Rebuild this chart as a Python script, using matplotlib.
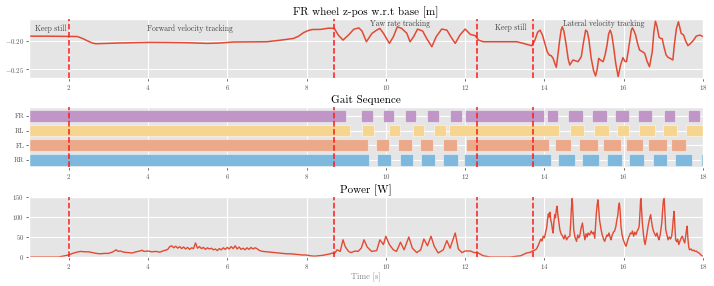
import matplotlib
matplotlib.use("Agg")
import matplotlib.pyplot as plt

plt.style.use('ggplot')
plt.rcParams['font.family'] = ['cmr10', 'DejaVu Serif']
plt.rcParams['mathtext.fontset'] = 'cm'
plt.rcParams['axes.formatter.use_mathtext'] = True

# phase change times [s]
phase_times = [2.0, 8.7, 12.3, 13.7]

# FR wheel z position w.r.t base [m]
z_t = [1.0, 1.5, 2.0, 2.22, 2.35, 2.47, 2.6, 2.68, 2.9, 3.23, 3.6, 4.06, 4.5, 5.0, 5.49, 5.8,
       6.16, 6.6, 7.0, 7.34, 7.5, 7.67, 7.8, 7.93, 8.05, 8.14, 8.35, 8.56, 8.7, 8.8, 8.92, 9.06,
       9.19, 9.32, 9.4, 9.51, 9.65, 9.77, 9.85, 9.94, 10.09, 10.19, 10.29, 10.4, 10.53, 10.61,
       10.7, 10.8, 10.93, 11.03, 11.16, 11.27, 11.41, 11.54, 11.64, 11.75, 11.87, 12.0, 12.13,
       12.25, 12.34, 12.46, 12.8, 13.3, 13.47, 13.68,
       13.76, 13.83, 13.89, 13.95, 14.01, 14.07, 14.12, 14.17, 14.22, 14.27, 14.3, 14.34, 14.38,
       14.42, 14.45, 14.49, 14.55, 14.6, 14.64, 14.68, 14.72, 14.78, 14.85, 14.93, 14.98, 15.04,
       15.08, 15.12, 15.18, 15.24, 15.29, 15.33, 15.37, 15.42, 15.48, 15.53, 15.58, 15.62, 15.66,
       15.7, 15.75, 15.8, 15.86, 15.92, 15.98, 16.03, 16.07, 16.11, 16.15, 16.19, 16.22, 16.26,
       16.3, 16.35, 16.4, 16.47, 16.53, 16.59, 16.65, 16.69, 16.72, 16.76, 16.8, 16.84, 16.89,
       16.93, 16.97, 17.02, 17.07, 17.12, 17.17, 17.24, 17.28, 17.33, 17.38, 17.42, 17.45, 17.51,
       17.56, 17.62, 17.68, 17.75, 17.83, 17.92, 18.0]
z_v = [-0.192, -0.192, -0.1925, -0.1926, -0.196, -0.2, -0.204, -0.2052, -0.2048, -0.204, -0.2035,
       -0.2028, -0.203, -0.2035, -0.2046, -0.204, -0.2022, -0.202, -0.2017, -0.199, -0.1975,
       -0.196, -0.192, -0.1856, -0.182, -0.1804, -0.1802, -0.178, -0.1784, -0.19, -0.1988, -0.19,
       -0.18, -0.1775, -0.1831, -0.2017, -0.1872, -0.1814, -0.1784, -0.187, -0.2046, -0.193,
       -0.1756, -0.1784, -0.187, -0.2017, -0.193, -0.1796, -0.1831, -0.196, -0.2104, -0.193,
       -0.1796, -0.1814, -0.193, -0.2046, -0.19, -0.1796, -0.1888, -0.191, -0.1988, -0.2017,
       -0.2017, -0.2017, -0.2046, -0.2087,
       -0.199, -0.185, -0.1814, -0.19, -0.2046, -0.219, -0.2249, -0.226, -0.2307, -0.241, -0.2464,
       -0.225, -0.2017, -0.182, -0.1756, -0.183, -0.2075, -0.232, -0.2423, -0.238, -0.2336, -0.235,
       -0.2365, -0.2278, -0.205, -0.1814, -0.184, -0.197, -0.2307, -0.252, -0.2615, -0.25,
       -0.2307, -0.234, -0.2365, -0.225, -0.2075, -0.188, -0.1814, -0.19, -0.2133, -0.24,
       -0.2627, -0.2423, -0.2295, -0.236, -0.2365, -0.22, -0.2017, -0.182, -0.1775, -0.183,
       -0.19, -0.205, -0.2162, -0.219, -0.222, -0.236, -0.2453, -0.23, -0.2191, -0.185, -0.1657,
       -0.175, -0.1935, -0.196, -0.1962, -0.212, -0.2249, -0.229, -0.2307, -0.2336, -0.205,
       -0.1784, -0.1668, -0.178, -0.1872, -0.19, -0.2, -0.2086, -0.205, -0.2, -0.192, -0.19,
       -0.1929]

# phase labels
label_texts = ['Keep still', 'Forward velocity tracking', 'Yaw rate tracking', 'Keep still',
               'Lateral velocity tracking']
label_t = [1.55, 5.07, 10.37, 13.16, 15.5]
label_y = [-0.1796, -0.1796, -0.1704, -0.178, -0.1704]

# gait sequence (stance intervals)
legs = ['RR', 'FL', 'RL', 'FR']
leg_colors = ['#7EB8DC', '#EBA98A', '#F5D58F', '#BF96C5']
gait = {
    'FR': [(1, 9.0), (9.38, 9.665), (9.93, 10.21), (10.48, 10.77), (11.03, 11.33), (11.61, 11.93),
           (12.0, 14.0), (14.06, 14.35), (14.6, 14.98), (15.2, 15.57), (15.79, 16.14),
           (16.37, 16.72), (17.01, 17.29), (17.61, 17.92)],
    'RL': [(1, 9.1), (9.40, 9.69), (10.07, 10.36), (10.68, 10.96), (11.21, 11.51), (11.6, 14.37),
           (14.64, 15.0), (15.25, 15.62), (15.82, 16.14), (16.39, 16.79), (16.98, 17.35),
           (17.57, 18.0)],
    'FL': [(1, 9.55), (9.76, 10.09), (10.31, 10.66), (10.87, 11.2), (11.45, 11.79), (12.01, 14.11),
           (14.27, 14.67), (14.86, 15.34), (15.47, 15.93), (16.05, 16.48), (16.62, 17.08),
           (17.19, 17.57)],
    'RR': [(1, 9.58), (9.78, 10.13), (10.35, 10.68), (10.89, 11.24), (11.45, 11.82), (11.98, 14.17),
           (14.35, 14.77), (14.94, 15.37), (15.57, 15.95), (16.14, 16.51), (16.74, 17.1),
           (17.29, 17.73), (17.94, 18.0)],
}

# power [W]
p_t = [1.0, 1.75, 1.85, 2.0, 2.1, 2.2, 2.3, 2.4, 2.5, 2.6, 2.7, 2.8, 2.9, 3.0, 3.1, 3.2, 3.25, 3.3,
       3.4, 3.5, 3.6, 3.7, 3.8, 3.85, 3.9, 4.0, 4.1, 4.2, 4.3, 4.4,
       4.45, 4.5, 4.55, 4.6, 4.65, 4.7, 4.75, 4.8, 4.85, 4.9, 4.95, 5.0, 5.05, 5.1, 5.15, 5.2, 5.25,
       5.3, 5.35, 5.4, 5.45, 5.5, 5.55, 5.6, 5.65, 5.7, 5.75, 5.8, 5.85, 5.9, 5.95, 6.0, 6.05,
       6.1, 6.15, 6.2, 6.25, 6.3, 6.35, 6.4, 6.45, 6.5, 6.55, 6.6, 6.65, 6.7, 6.75, 6.8, 6.85, 6.9,
       7.0, 7.1, 7.2, 7.3, 7.4, 7.5, 7.6, 7.7, 7.8, 7.9, 8.0, 8.1, 8.2, 8.3, 8.4, 8.5, 8.6, 8.65,
       8.7, 8.77, 8.85, 8.92, 8.98, 9.06, 9.12, 9.23, 9.3, 9.38, 9.45, 9.53, 9.64, 9.77, 9.85,
       9.94, 10.0, 10.09, 10.19, 10.27, 10.37, 10.46, 10.58, 10.67, 10.78, 10.88, 10.96, 11.05,
       11.14, 11.22, 11.32, 11.45, 11.54, 11.62, 11.75, 11.83, 11.92, 12.0, 12.13, 12.23, 12.31,
       12.46, 12.63, 13.14, 13.4, 13.55, 13.65,
       13.7, 13.75, 13.8, 13.84, 13.88, 13.91, 13.94, 13.97, 14.0, 14.03, 14.06, 14.08, 14.1,
       14.12, 14.14, 14.16, 14.18, 14.2, 14.22, 14.24, 14.26, 14.28, 14.3, 14.32, 14.34, 14.36,
       14.39, 14.42, 14.46, 14.49, 14.52, 14.56, 14.6, 14.64, 14.66, 14.68, 14.7, 14.72, 14.74,
       14.77, 14.81, 14.84, 14.87, 14.89, 14.92, 14.96, 14.99, 15.02, 15.05, 15.08, 15.1, 15.14,
       15.18, 15.21, 15.24, 15.27, 15.29, 15.31, 15.33, 15.35, 15.37, 15.39, 15.41, 15.43, 15.46,
       15.49, 15.52, 15.55, 15.58, 15.6, 15.63, 15.66, 15.68, 15.71, 15.74, 15.77, 15.8, 15.83,
       15.85, 15.87, 15.89, 15.91, 15.93, 15.96, 15.99, 16.02, 16.04, 16.06, 16.09, 16.12, 16.14,
       16.17, 16.2, 16.22, 16.25, 16.28, 16.31, 16.34, 16.37, 16.39, 16.41, 16.43, 16.45, 16.47,
       16.5, 16.52, 16.54, 16.57, 16.6, 16.62, 16.65, 16.68, 16.7, 16.72, 16.75, 16.78, 16.81,
       16.84, 16.87, 16.89, 16.92, 16.94, 16.96, 16.98, 17.0, 17.02, 17.04, 17.06, 17.09, 17.12,
       17.15, 17.18, 17.21, 17.23, 17.25, 17.27, 17.29, 17.31, 17.34, 17.36, 17.39, 17.42, 17.45,
       17.48, 17.51, 17.54, 17.56, 17.58, 17.6, 17.62, 17.64, 17.66, 17.7, 17.73, 17.77, 17.8,
       17.83, 17.86, 17.9, 17.93, 17.96, 18.0]
p_v = [0, 0, 2, 5, 9, 12, 14, 13, 13, 11, 9, 8, 9, 9, 12, 18, 14, 15,
       12, 11, 10, 13, 15, 17, 14, 15, 13, 14, 12, 16,
       17, 19, 26, 28, 23, 27, 22, 26, 21, 25, 20, 24, 19, 23, 21, 35, 22,
       26, 21, 24, 19, 23, 20, 22, 18, 20, 16, 21, 18, 23, 19, 24, 20,
       26, 21, 28, 20, 25, 19, 22, 18, 23, 19, 24, 20, 23, 21, 17, 15, 14,
       13, 12, 11, 10, 9, 8, 8, 7, 6, 5, 5, 3, 2, 3, 4, 6, 8, 10,
       8, 18, 14, 43, 25, 14, 11, 15, 14, 22, 43, 25, 14, 16, 43,
       31, 52, 31, 18, 14, 37, 18, 50, 22, 11, 18, 45, 28,
       52, 27, 10, 18, 41, 22, 60, 20, 11, 15, 15, 11, 11,
       3, 0, 0, 3, 10, 12,
       15, 17, 20, 28, 38, 45, 40, 52, 48, 62, 75, 95, 108,
       100, 112, 92, 85, 70, 60, 88, 106, 98, 118, 127, 105, 90,
       68, 58, 52, 45, 55, 43, 50, 52, 80, 120, 150, 110, 68,
       50, 39, 55, 48, 52, 70, 85, 60, 43, 58, 50, 60, 55,
       65, 58, 62, 47, 80, 110, 130, 143, 120, 93, 80, 68, 55,
       45, 39, 48, 55, 52, 60, 48, 43, 55, 62, 65, 75, 95,
       102, 125, 135, 115, 77, 55, 43, 35, 30, 27, 38, 48, 52,
       60, 58, 65, 52, 62, 56, 65, 70, 77, 110, 150, 120, 85,
       55, 40, 31, 48, 68, 80, 95, 106, 90, 77, 65, 58, 52,
       60, 48, 43, 55, 70, 85, 115, 140, 150, 110, 68, 55, 43,
       50, 45, 52, 70, 95, 114, 80, 43, 38, 45, 31, 40, 48,
       52, 42, 35, 50, 65, 77, 45, 25, 18, 20, 16, 17, 14,
       15, 12, 10, 7, 4, 2]

fig = plt.figure(figsize=(7.14, 2.86), dpi=100)
ax1 = fig.add_axes([0.0406, 0.7273, 0.944, 0.2063])
ax2 = fig.add_axes([0.0406, 0.4161, 0.944, 0.2098])
ax3 = fig.add_axes([0.0406, 0.1014, 0.944, 0.2098])

line_c = '#E24A33'
title_fs = 8
tick_fs = 5

# top: z position
ax1.plot(z_t, z_v, color=line_c, lw=1.1)
for lt, ly, txt in zip(label_t, label_y, label_texts):
    ax1.text(lt, ly, txt, fontsize=5.5, ha='center', va='center', color='#444444')
ax1.set_ylim(-0.265, -0.162)
ax1.set_yticks([-0.25, -0.20])
ax1.set_title('FR wheel z-pos w.r.t base [m]', fontsize=title_fs, pad=3)

# middle: gait sequence
for i, leg in enumerate(legs):
    segs = [(a, b - a) for a, b in gait[leg]]
    ax2.broken_barh(segs, (i - 0.4, 0.8), facecolors=leg_colors[i],
                    edgecolors=(1, 1, 1, 0.45), linewidth=0.8, zorder=2)
ax2.set_ylim(-0.5, 3.62)
ax2.set_yticks(range(len(legs)))
ax2.set_yticklabels(legs)
ax2.set_title('Gait Sequence', fontsize=title_fs, pad=3)

# bottom: power
ax3.plot(p_t, p_v, color=line_c, lw=1.0)
ax3.set_ylim(0, 150)
ax3.set_yticks([0, 50, 100, 150])
ax3.set_title('Power [W]', fontsize=title_fs, pad=3)
ax3.set_xlabel('Time [s]', fontsize=6, color='#888888', labelpad=1)

for ax in (ax1, ax2, ax3):
    ax.set_xlim(1, 18)
    ax.set_xticks(range(2, 19, 2))
    ax.tick_params(labelsize=tick_fs, length=2, width=0.6, pad=1.5)
    for pt in phase_times:
        ax.axvline(pt, color='#FF1A1A', ls='--', lw=1.1, zorder=5)

fig.savefig('out.png', dpi=100)
